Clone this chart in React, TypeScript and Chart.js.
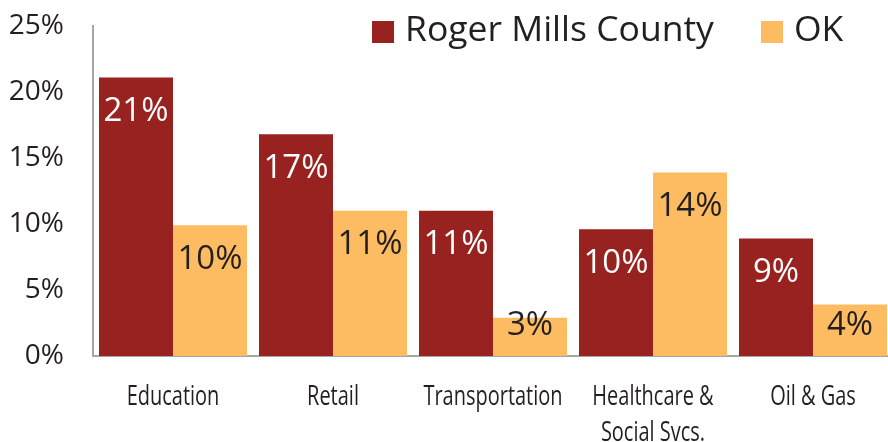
import React, { useEffect, useRef } from "react";
import { Chart, registerables } from "chart.js";

Chart.register(...registerables);

const categories: string[][] = [
  ["Education"],
  ["Retail"],
  ["Transportation"],
  ["Healthcare &", "Social Svcs."],
  ["Oil & Gas"],
];
const rogerMills = [21.1, 16.8, 11.0, 9.6, 8.9];
const oklahoma = [9.9, 11.0, 2.9, 13.9, 3.9];
const seriesNames = ["Roger Mills County", "OK"];
const yTicks = [0, 5, 10, 15, 20, 25];

const RED = "#98221F";
const ORANGE = "#FDBB62";
const TEXT = "#231F20";
const MAIN_FONT = "'Open Sans', sans-serif";

const labelPlugin = {
  id: "barLabels",
  afterDatasetsDraw(chart: any) {
    const ctx = chart.ctx;
    ctx.save();
    ctx.font = `33px ${MAIN_FONT}`;
    ctx.textAlign = "center";
    ctx.textBaseline = "middle";
    chart.data.datasets.forEach((ds: any, di: number) => {
      const meta = chart.getDatasetMeta(di);
      meta.data.forEach((bar: any, i: number) => {
        const v = ds.data[i];
        const y = Math.min(bar.y + 34, bar.base - 30);
        ctx.fillStyle = di === 0 ? "#FFFFFF" : TEXT;
        ctx.fillText(Math.round(v) + "%", bar.x, y);
      });
    });
    ctx.restore();
  },
};

const xLabelPlugin = {
  id: "xLabels",
  afterDraw(chart: any) {
    const ctx = chart.ctx;
    const xs = chart.scales.x;
    ctx.save();
    ctx.font = `27px ${MAIN_FONT}`;
    ctx.fillStyle = TEXT;
    ctx.textAlign = "center";
    ctx.textBaseline = "alphabetic";
    const sx = 0.74;
    categories.forEach((lines, i) => {
      const cx = xs.getPixelForValue(i);
      lines.forEach((line, li) => {
        ctx.save();
        ctx.translate(cx, 405 + li * 36);
        ctx.scale(sx, 1);
        ctx.fillText(line, 0, 0);
        ctx.restore();
      });
    });
    ctx.restore();
  },
};

const legendPlugin = {
  id: "customLegend",
  afterDraw(chart: any) {
    const ctx = chart.ctx;
    ctx.save();
    ctx.font = `35.5px ${MAIN_FONT}`;
    ctx.textBaseline = "middle";
    ctx.textAlign = "left";
    const items = [
      { x: 372, color: RED, text: seriesNames[0] },
      { x: 761, color: ORANGE, text: seriesNames[1] },
    ];
    items.forEach((it) => {
      ctx.fillStyle = it.color;
      ctx.fillRect(it.x, 21, 22, 22);
      ctx.fillStyle = TEXT;
      ctx.fillText(it.text, it.x + 33, 31);
    });
    ctx.restore();
  },
};

export default function App() {
  const ref = useRef<HTMLCanvasElement>(null);
  useEffect(() => {
    if (!ref.current) return;
    const chart = new Chart(ref.current, {
      type: "bar",
      data: {
        labels: categories.map((l) => l.join(" ")),
        datasets: [
          {
            label: seriesNames[0],
            data: rogerMills,
            backgroundColor: RED,
            categoryPercentage: 0.925,
            barPercentage: 1,
          },
          {
            label: seriesNames[1],
            data: oklahoma,
            backgroundColor: ORANGE,
            categoryPercentage: 0.925,
            barPercentage: 1,
          },
        ],
      },
      options: {
        animation: false,
        responsive: false,
        maintainAspectRatio: false,
        layout: { padding: { top: 26, right: 0, left: 0, bottom: 0 } },
        plugins: {
          legend: { display: false },
          tooltip: { enabled: false },
        },
        scales: {
          x: {
            grid: { display: false, drawTicks: false },
            border: { display: true, color: "#A6A6A6", width: 2 },
            ticks: { display: false },
            afterFit(scale: any) {
              scale.height = 86;
              scale.paddingLeft = 0;
              scale.paddingRight = 0;
              scale.paddingTop = 0;
              scale.paddingBottom = 0;
            },
          },
          y: {
            min: 0,
            max: 25,
            afterBuildTicks(scale: any) {
              scale.ticks = yTicks.map((v) => ({ value: v }));
            },
            grid: { display: false, drawTicks: false },
            border: { display: true, color: "#A6A6A6", width: 2 },
            ticks: {
              color: TEXT,
              font: { family: MAIN_FONT, size: 28 },
              padding: 29,
              callback: (v: any) => v + "%",
            },
            afterFit(scale: any) {
              scale.width = 93;
              scale.paddingLeft = 0;
              scale.paddingRight = 0;
              scale.paddingTop = 0;
              scale.paddingBottom = 0;
            },
          },
        },
      },
      plugins: [labelPlugin, xLabelPlugin, legendPlugin],
    });
    return () => chart.destroy();
  }, []);
  return (
    <div style={{ position: "fixed", left: 0, top: 0, width: 888, height: 442, background: "#fff", overflow: "hidden" }}>
      <canvas ref={ref} width={893} height={442} style={{ width: 893, height: 442 }} />
    </div>
  );
}
